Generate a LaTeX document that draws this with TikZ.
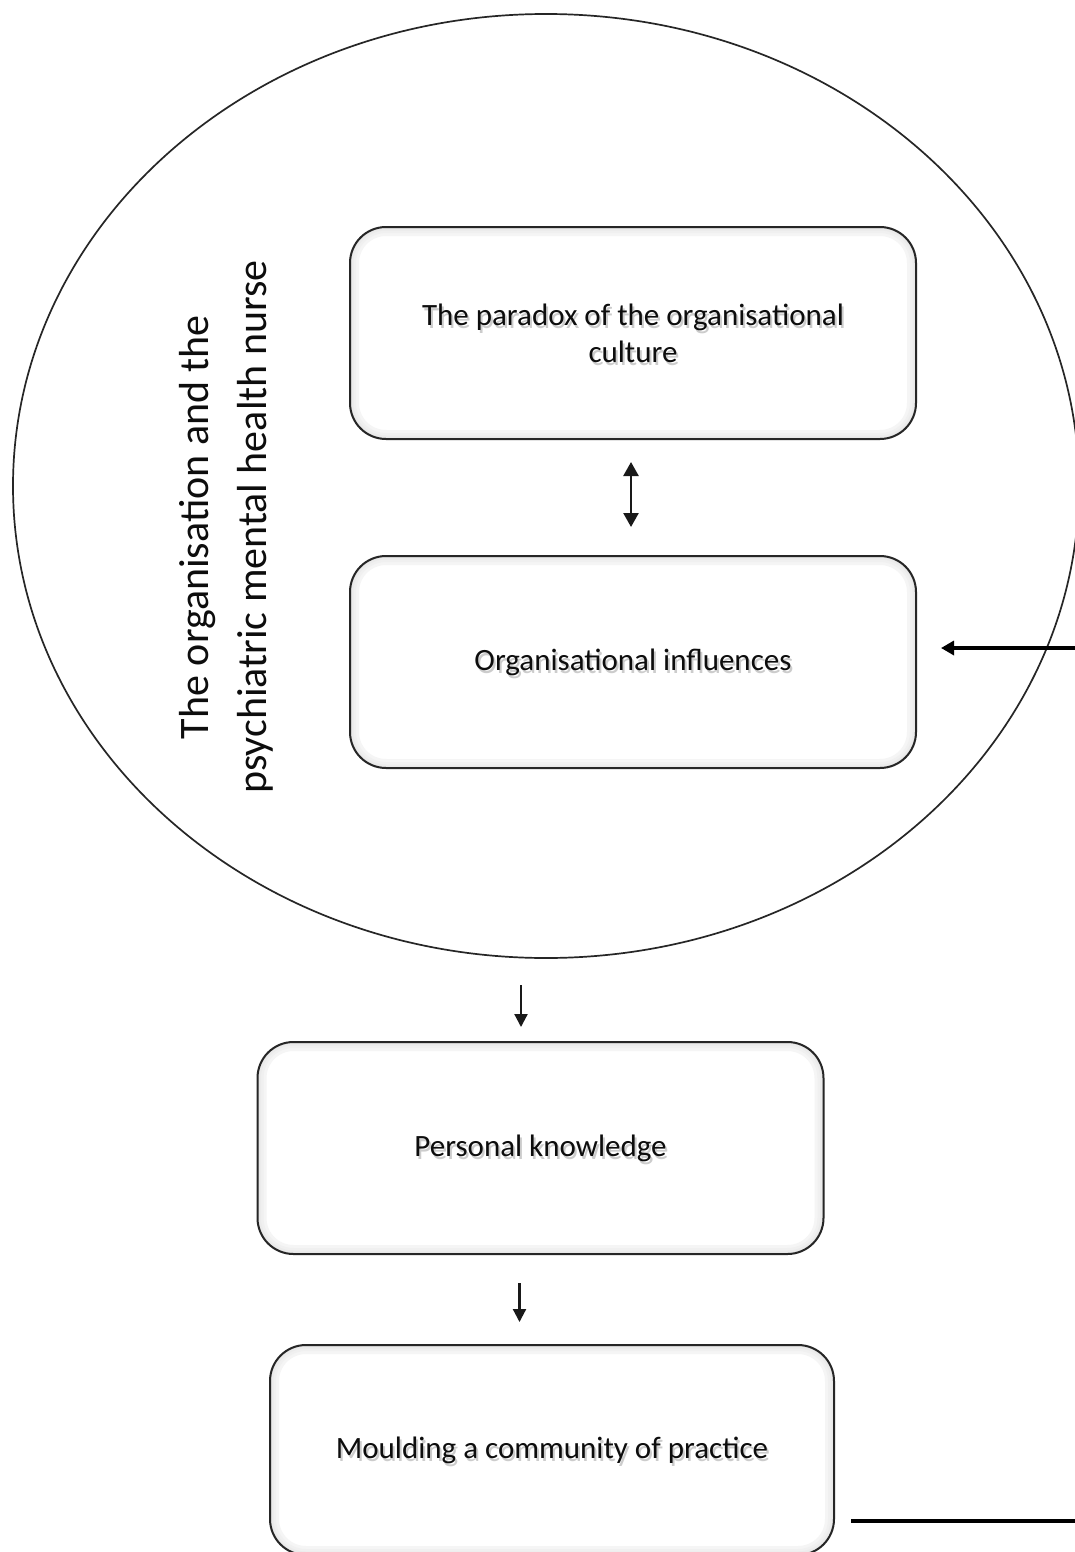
\documentclass[tikz,border=0pt]{standalone}
\usepackage{fontspec}
\setmainfont{Carlito}
\usetikzlibrary{arrows.meta,shapes.geometric}

% text with a soft grey drop shadow behind it
\newcommand\shtext[1]{\leavevmode\rlap{\raisebox{-3pt}[0pt][0pt]{\hspace{2pt}\textcolor{black!20}{#1}}}#1}

\tikzset{
  stage/.style={draw=black!85, line width=2pt, rounded corners=36,
    minimum width=566, minimum height=212, align=center,
    text=black!95, font=\fontsize{31}{37}\selectfont,
    path picture={
      \foreach \w/\c in {18/4,12/6,7/8,3/11}
        \draw[line width=\w pt, black!\c, rounded corners=36]
          (path picture bounding box.south west) rectangle
          (path picture bounding box.north east);
    }},
  arr/.style={line width=2.2pt, draw=black!90, -{Triangle[length=13pt,width=13pt]}},
  dbl/.style={line width=2.5pt, draw=black!90, {Triangle[length=14pt,width=15pt]}-{Triangle[length=14pt,width=15pt]}},
  bigarr/.style={line width=3.5pt, -{Triangle[length=13pt,width=14pt]}},
}

\begin{document}
\begin{tikzpicture}[x=1pt,y=-1pt]
\useasboundingbox (0,0) rectangle (1075,1552);
\fill[white] (0,0) rectangle (1075,1552);
\clip (0,0) rectangle (1075,1552);

% the organisation
\node[ellipse, draw=black!85, line width=1.7pt, minimum width=1066, minimum height=944, inner sep=0]
  (ell) at (546,486) {};
\node[rotate=90, align=center, text=black!95, font=\fontsize{42}{58}\selectfont]
  (title) at (226,527) {The organisation and the\\psychiatric mental health nurse};

% stages
\node[stage] (paradox) at (633,333) {\shtext{The paradox of the organisational}\\\shtext{culture}};
\node[stage] (influence) at (633,662) {\shtext{Organisational\ influences}};
\node[stage] (personal) at (540.5,1148) {\shtext{Personal knowledge}};
\node[stage, minimum width=564, minimum height=210] (moulding) at (552,1450) {\shtext{Moulding a community of practice}};

% connectors
\draw[dbl, shorten <=22, shorten >=28] ([xshift=-2]paradox.south) -- ([xshift=-2]influence.north);

\coordinate (inflow) at (1080,648);
\draw[bigarr, shorten >=24] (inflow) -- (inflow -| influence.east);

\coordinate (below) at (521,985);
\draw[arr, shorten >=14] (below) -- (below |- personal.north);

\draw[arr, shorten <=28, shorten >=22] ([xshift=-21]personal.south) -- ([xshift=-21]personal.south |- moulding.north);

\coordinate (outflow) at (1080,1521);
\draw[line width=4.5pt, shorten <=16] (outflow -| moulding.east) -- (outflow);
\end{tikzpicture}
\end{document}
